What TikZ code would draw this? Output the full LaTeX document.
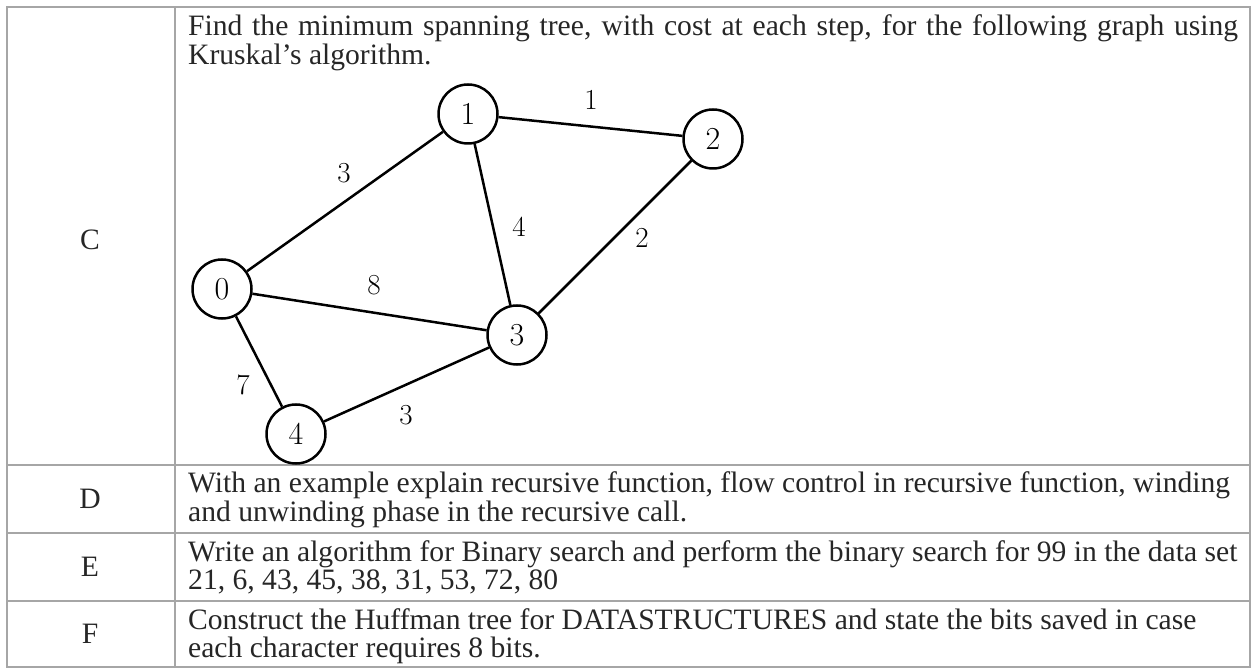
\documentclass[tikz,border=0pt]{standalone}
\usepackage{fontspec}
\newfontfamily\timesfont{Liberation Serif}
\tikzset{
	vertex/.style={draw, circle, line width=2.5pt, minimum size=59pt, inner sep=0pt, font=\fontsize{32}{32}\selectfont},
	weight/.style={inner sep=0pt, font=\fontsize{29}{29}\selectfont},
	edge/.style={line width=2.5pt},
	rule/.style={line width=2pt, black!35},
	qtext/.style={anchor=base west, inner sep=0pt, text=black!85, font=\timesfont\fontsize{29.6}{29.6}\selectfont},
	qtag/.style={inner sep=0pt, text=black!85, font=\timesfont\fontsize{29.6}{29.6}\selectfont}
}
\begin{document}
\begin{tikzpicture}[x=1pt, y=-1pt]

			\useasboundingbox (0,0) rectangle (1254,668);

			\draw [rule] (7,7) rectangle (1250,667);
			\draw [rule] (175,7) -- (175,667);
			\draw [rule] (7,465) -- (1250,465);
			\draw [rule] (7,533) -- (1250,533);
			\draw [rule] (7,601) -- (1250,601);

			\node [qtag] (tagC) at (90,240) {C};
			\node [qtag] (tagD) at (90,499) {D};
			\node [qtag] (tagE) at (90,567) {E};
			\node [qtag] (tagF) at (90,634) {F};

			\node [qtext] (qC1) at (188,36) {\makebox[1050pt][s]{Find the minimum spanning tree, with cost at each step, for the following graph using}};
			\node [qtext] (qC2) at (188,65) {Kruskal’s algorithm.};
			\node [qtext] (qD1) at (188,493) {With an example explain recursive function, flow control in recursive function, winding};
			\node [qtext] (qD2) at (188,521) {and unwinding phase in the recursive call.};
			\node [qtext] (qE1) at (188,561) {Write an algorithm for Binary search and perform the binary search for 99 in the data set};
			\node [qtext] (qE2) at (188,589) {21, 6, 43, 45, 38, 31, 53, 72, 80};
			\node [qtext] (qF1) at (188,629) {Construct the Huffman tree for DATASTRUCTURES and state the bits saved in case};
			\node [qtext] (qF2) at (188,657) {each character requires 8 bits.};

			\node [vertex] (v0) at (222,289) {0};
			\node [vertex] (v1) at (468,114) {1};
			\node [vertex] (v2) at (713,139) {2};
			\node [vertex] (v3) at (517,335) {3};
			\node [vertex] (v4) at (296,434) {4};

			\draw [edge] (v0) -- (v1);
			\draw [edge] (v1) -- (v2);
			\draw [edge] (v1) -- (v3);
			\draw [edge] (v0) -- (v3);
			\draw [edge] (v2) -- (v3);
			\draw [edge] (v0) -- (v4);
			\draw [edge] (v4) -- (v3);

			\node [weight] (w01) at (344,173) {3};
			\node [weight] (w12) at (591,100) {1};
			\node [weight] (w13) at (519,227) {4};
			\node [weight] (w23) at (642,238) {2};
			\node [weight] (w03) at (374,285) {8};
			\node [weight] (w04) at (243,385) {7};
			\node [weight] (w43) at (406,415) {3};
		\end{tikzpicture}
\end{document}
